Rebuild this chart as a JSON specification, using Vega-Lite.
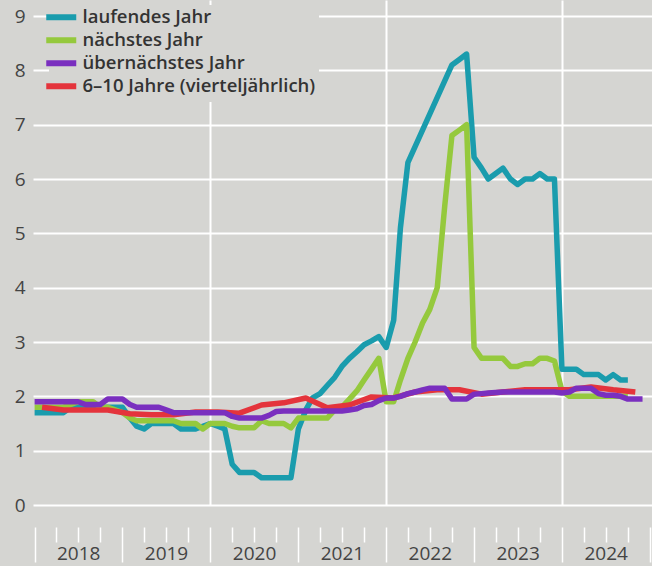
{
"$schema": "https://vega.github.io/schema/vega-lite/v6.json",
"width": 619, "height": 505,
"autosize": {"type": "none"},
"padding": {"left": 33, "top": 0, "right": 0, "bottom": 61},
"background": "#d5d5d2",
"config": {"view": {"stroke": null, "fill": "#d5d5d2"}, "font": "Open Sans"},
"data": {"values": [
{"d":"2018-01-01","L":1.7,"N":1.8,"U":1.9,"R":null},
{"d":"2018-02-01","L":1.7,"N":1.8,"U":1.9,"R":1.8},
{"d":"2018-03-01","L":1.7,"N":1.8,"U":1.9,"R":null},
{"d":"2018-04-01","L":1.7,"N":1.8,"U":1.9,"R":null},
{"d":"2018-05-01","L":1.7,"N":1.8,"U":1.9,"R":1.75},
{"d":"2018-06-01","L":1.8,"N":1.85,"U":1.9,"R":null},
{"d":"2018-07-01","L":1.8,"N":1.9,"U":1.9,"R":null},
{"d":"2018-08-01","L":1.8,"N":1.9,"U":1.85,"R":1.75},
{"d":"2018-09-01","L":1.8,"N":1.9,"U":1.85,"R":null},
{"d":"2018-10-01","L":1.8,"N":1.8,"U":1.85,"R":null},
{"d":"2018-11-01","L":1.8,"N":1.8,"U":1.95,"R":1.75},
{"d":"2018-12-01","L":1.8,"N":1.75,"U":1.95,"R":null},
{"d":"2019-01-01","L":1.8,"N":1.7,"U":1.95,"R":null},
{"d":"2019-02-01","L":1.6,"N":1.6,"U":1.85,"R":1.68},
{"d":"2019-03-01","L":1.45,"N":1.55,"U":1.8,"R":null},
{"d":"2019-04-01","L":1.4,"N":1.55,"U":1.8,"R":null},
{"d":"2019-05-01","L":1.5,"N":1.55,"U":1.8,"R":1.66},
{"d":"2019-06-01","L":1.5,"N":1.55,"U":1.8,"R":null},
{"d":"2019-07-01","L":1.5,"N":1.55,"U":1.75,"R":null},
{"d":"2019-08-01","L":1.5,"N":1.55,"U":1.7,"R":1.66},
{"d":"2019-09-01","L":1.4,"N":1.5,"U":1.7,"R":null},
{"d":"2019-10-01","L":1.4,"N":1.5,"U":1.7,"R":null},
{"d":"2019-11-01","L":1.4,"N":1.5,"U":1.7,"R":1.71},
{"d":"2019-12-01","L":1.45,"N":1.4,"U":1.7,"R":null},
{"d":"2020-01-01","L":1.5,"N":1.5,"U":1.7,"R":null},
{"d":"2020-02-01","L":1.45,"N":1.5,"U":1.7,"R":1.71},
{"d":"2020-03-01","L":1.4,"N":1.5,"U":1.7,"R":null},
{"d":"2020-04-01","L":0.75,"N":1.45,"U":1.63,"R":null},
{"d":"2020-05-01","L":0.6,"N":1.42,"U":1.6,"R":1.69},
{"d":"2020-06-01","L":0.6,"N":1.42,"U":1.6,"R":null},
{"d":"2020-07-01","L":0.6,"N":1.42,"U":1.6,"R":null},
{"d":"2020-08-01","L":0.5,"N":1.55,"U":1.6,"R":1.84},
{"d":"2020-09-01","L":0.5,"N":1.5,"U":1.65,"R":null},
{"d":"2020-10-01","L":0.5,"N":1.5,"U":1.72,"R":null},
{"d":"2020-11-01","L":0.5,"N":1.5,"U":1.73,"R":1.88},
{"d":"2020-12-01","L":0.5,"N":1.42,"U":1.73,"R":null},
{"d":"2021-01-01","L":1.4,"N":1.6,"U":1.73,"R":null},
{"d":"2021-02-01","L":1.75,"N":1.6,"U":1.73,"R":1.97},
{"d":"2021-03-01","L":1.97,"N":1.6,"U":1.73,"R":null},
{"d":"2021-04-01","L":2.05,"N":1.6,"U":1.73,"R":null},
{"d":"2021-05-01","L":2.2,"N":1.6,"U":1.73,"R":1.79},
{"d":"2021-06-01","L":2.35,"N":1.75,"U":1.73,"R":null},
{"d":"2021-07-01","L":2.55,"N":1.8,"U":1.73,"R":null},
{"d":"2021-08-01","L":2.7,"N":1.95,"U":1.75,"R":1.84},
{"d":"2021-09-01","L":2.82,"N":2.1,"U":1.77,"R":null},
{"d":"2021-10-01","L":2.95,"N":2.3,"U":1.83,"R":null},
{"d":"2021-11-01","L":3.02,"N":2.5,"U":1.85,"R":1.99},
{"d":"2021-12-01","L":3.1,"N":2.7,"U":1.92,"R":null},
{"d":"2022-01-01","L":2.9,"N":1.9,"U":1.97,"R":null},
{"d":"2022-02-01","L":3.4,"N":1.9,"U":1.97,"R":1.97},
{"d":"2022-03-01","L":5.1,"N":2.3,"U":2.0,"R":null},
{"d":"2022-04-01","L":6.3,"N":2.7,"U":2.05,"R":null},
{"d":"2022-05-01","L":null,"N":3.0,"U":2.08,"R":2.08},
{"d":"2022-06-01","L":null,"N":3.35,"U":2.12,"R":null},
{"d":"2022-07-01","L":null,"N":3.6,"U":2.15,"R":null},
{"d":"2022-08-01","L":null,"N":4.0,"U":2.15,"R":2.12},
{"d":"2022-09-01","L":null,"N":5.5,"U":2.15,"R":null},
{"d":"2022-10-01","L":8.1,"N":6.8,"U":1.95,"R":null},
{"d":"2022-11-01","L":8.2,"N":6.9,"U":1.95,"R":2.12},
{"d":"2022-12-01","L":8.3,"N":7.0,"U":1.95,"R":null},
{"d":"2023-01-01","L":6.4,"N":2.9,"U":2.04,"R":null},
{"d":"2023-02-01","L":6.2,"N":2.7,"U":2.05,"R":2.04},
{"d":"2023-03-01","L":6.0,"N":2.7,"U":2.06,"R":null},
{"d":"2023-04-01","L":6.1,"N":2.7,"U":2.07,"R":null},
{"d":"2023-05-01","L":6.2,"N":2.7,"U":2.08,"R":2.08},
{"d":"2023-06-01","L":6.0,"N":2.55,"U":2.08,"R":null},
{"d":"2023-07-01","L":5.9,"N":2.55,"U":2.08,"R":null},
{"d":"2023-08-01","L":6.0,"N":2.6,"U":2.08,"R":2.12},
{"d":"2023-09-01","L":6.0,"N":2.6,"U":2.08,"R":null},
{"d":"2023-10-01","L":6.1,"N":2.7,"U":2.08,"R":null},
{"d":"2023-11-01","L":6.0,"N":2.7,"U":2.08,"R":2.12},
{"d":"2023-12-01","L":6.0,"N":2.65,"U":2.08,"R":null},
{"d":"2024-01-01","L":2.5,"N":2.1,"U":2.06,"R":null},
{"d":"2024-02-01","L":2.5,"N":2.0,"U":2.08,"R":2.12},
{"d":"2024-03-01","L":2.5,"N":2.0,"U":2.15,"R":null},
{"d":"2024-04-01","L":2.4,"N":2.0,"U":2.15,"R":null},
{"d":"2024-05-01","L":2.4,"N":2.0,"U":2.15,"R":2.17},
{"d":"2024-06-01","L":2.4,"N":2.0,"U":2.05,"R":null},
{"d":"2024-07-01","L":2.3,"N":2.0,"U":2.02,"R":null},
{"d":"2024-08-01","L":2.4,"N":2.0,"U":2.02,"R":2.12},
{"d":"2024-09-01","L":2.3,"N":2.0,"U":2.0,"R":null},
{"d":"2024-10-01","L":2.3,"N":2.0,"U":1.95,"R":null},
{"d":"2024-11-01","L":null,"N":null,"U":1.95,"R":2.08},
{"d":"2024-12-01","L":null,"N":null,"U":1.95,"R":null}
]},
"transform": [
  {"fold": ["L", "N", "U", "R"], "as": ["key", "v"]},
  {"filter": "isValid(datum.v)"}
],
"encoding": {
  "x": {"field": "d", "type": "temporal",
    "scale": {"type": "utc", "nice": false, "domain": [{"year": 2017, "month": 12, "date": 25, "hours": 8, "utc": true}, {"year": 2025, "month": 1, "date": 9, "hours": 8, "utc": true}]},
    "axis": {"orient": "bottom", "offset": 22, "domain": false, "title": null,
      "tickCount": {"interval": "month", "step": 3},
      "tickColor": "#ffffff", "tickWidth": 1.5,
      "tickSize": {"condition": {"test": "utcmonth(datum.value) == 0", "value": 35}, "value": 15},
      "labelExpr": "utcmonth(datum.value) == 6 ? utcFormat(datum.value, '%Y') : ''",
      "labelFontSize": 19, "labelColor": "#444444", "labelPadding": 2, "labelFlush": false, "labelOverlap": false,
      "grid": true, "gridColor": "#ffffff", "gridWidth": 2,
      "gridOpacity": {"condition": {"test": "utcmonth(datum.value) == 0 && utcyear(datum.value) % 2 == 0 && utcyear(datum.value) > 2018", "value": 1}, "value": 0}
    }},
  "y": {"field": "v", "type": "quantitative",
    "scale": {"domain": [0, 9.295], "nice": false, "zero": true},
    "axis": {"values": [0,1,2,3,4,5,6,7,8,9], "domain": false, "ticks": false, "title": null,
      "labelFontSize": 19, "labelColor": "#444444", "labelPadding": 8,
      "grid": true, "gridColor": "#ffffff", "gridWidth": 2}},
  "color": {"field": "key", "type": "nominal",
    "scale": {"domain": ["L", "N", "U", "R"], "range": ["#1a9cad", "#95c93d", "#7a2fbf", "#e4343c"]},
    "legend": {"title": null, "orient": "none", "legendX": 16, "legendY": 5,
      "symbolType": "M-5,0H5", "symbolStrokeWidth": 6, "symbolSize": 36,
      "labelFontSize": 18.5, "labelFontWeight": 600, "labelColor": "#333333", "labelOffset": 12,
      "rowPadding": -2, "padding": 3, "fillColor": "#d5d5d2", "labelLimit": 400,
      "labelExpr": "datum.value == 'L' ? 'laufendes Jahr' : datum.value == 'N' ? 'nächstes Jahr' : datum.value == 'U' ? 'übernächstes Jahr' : '6–10 Jahre (vierteljährlich)'"}}
},
"layer": [
  {"transform": [{"filter": "datum.key == 'L'"}], "mark": {"type": "line", "strokeWidth": 5.5, "strokeJoin": "round"}},
  {"transform": [{"filter": "datum.key == 'N'"}], "mark": {"type": "line", "strokeWidth": 5.5, "strokeJoin": "round"}},
  {"transform": [{"filter": "datum.key == 'R'"}], "mark": {"type": "line", "strokeWidth": 5.5, "strokeJoin": "round"}},
  {"transform": [{"filter": "datum.key == 'U'"}], "mark": {"type": "line", "strokeWidth": 5.5, "strokeJoin": "round"}}
]
}
